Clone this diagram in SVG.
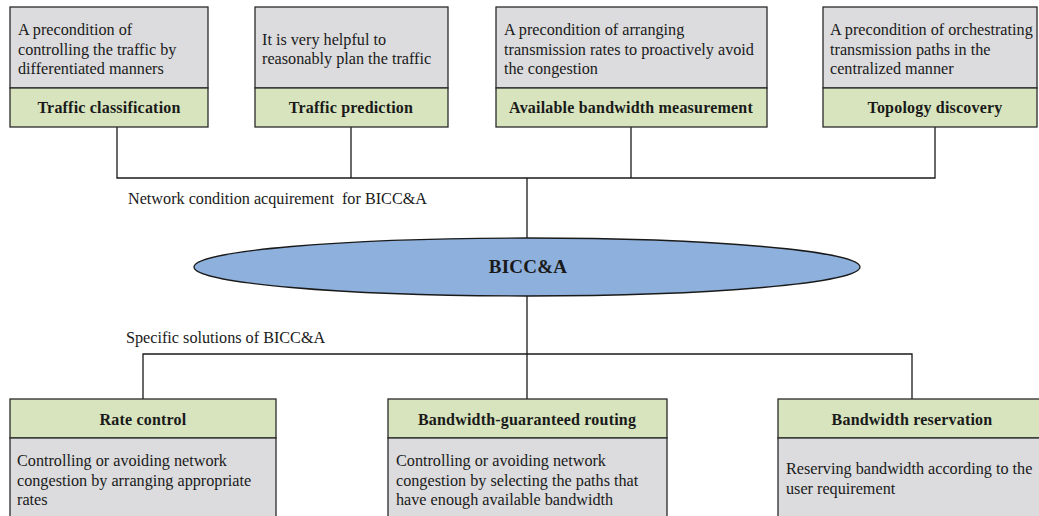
<svg xmlns="http://www.w3.org/2000/svg" width="1039" height="516" viewBox="0 0 1039 516">
  <style>
    .desc { fill: #dcdcde; stroke: #2a2a2a; stroke-width: 1.3; }
    .head { fill: #d7e4bd; stroke: #2a2a2a; stroke-width: 1.3; }
    .t { font-family: "Liberation Serif", "Times New Roman", serif; font-size: 16.2px; fill: #1a1a1a; }
    .h { font-family: "Liberation Serif", "Times New Roman", serif; font-size: 16px; font-weight: bold; fill: #1a1a1a; text-anchor: middle; letter-spacing: 0.2px; }
    .wire { fill: none; stroke: #1a1a1a; stroke-width: 1.3; }
  </style>
  <rect width="1039" height="516" fill="#ffffff"/>

  <g id="connectors">
    <polyline class="wire" points="117,127 117,178 935,178 935,127"/>
    <line class="wire" x1="351" y1="127" x2="351" y2="178"/>
    <line class="wire" x1="631" y1="127" x2="631" y2="178"/>
    <line class="wire" x1="527" y1="178" x2="527" y2="239"/>
    <line class="wire" x1="527" y1="296" x2="527" y2="399"/>
    <polyline class="wire" points="143,399 143,354 912,354 912,399"/>
  </g>

  <g id="traffic-classification">
    <rect class="desc" x="10" y="7" width="198" height="81"/>
    <rect class="head" x="10" y="88" width="198" height="39"/>
    <text class="t" x="18" y="35">A precondition of</text>
    <text class="t" x="18" y="55">controlling the traffic by</text>
    <text class="t" x="18" y="74">differentiated manners</text>
    <text class="h" x="109" y="113">Traffic classification</text>
  </g>

  <g id="traffic-prediction">
    <rect class="desc" x="255" y="7" width="193" height="81"/>
    <rect class="head" x="255" y="88" width="193" height="39"/>
    <text class="t" x="262" y="45">It is very helpful to</text>
    <text class="t" x="262" y="64">reasonably plan the traffic</text>
    <text class="h" x="351" y="113">Traffic prediction</text>
  </g>

  <g id="bandwidth-measurement">
    <rect class="desc" x="496" y="7" width="271" height="81"/>
    <rect class="head" x="496" y="88" width="271" height="39"/>
    <text class="t" x="504" y="35">A precondition of arranging</text>
    <text class="t" x="504" y="55">transmission rates to proactively avoid</text>
    <text class="t" x="504" y="74">the congestion</text>
    <text class="h" x="631" y="113">Available bandwidth measurement</text>
  </g>

  <g id="topology-discovery">
    <rect class="desc" x="823" y="7" width="214" height="81"/>
    <rect class="head" x="823" y="88" width="214" height="39"/>
    <text class="t" x="830" y="35">A precondition of orchestrating</text>
    <text class="t" x="830" y="55">transmission paths in the</text>
    <text class="t" x="830" y="74">centralized manner</text>
    <text class="h" x="935" y="113">Topology discovery</text>
  </g>

  <text class="t" x="128" y="204" xml:space="preserve">Network condition acquirement  for BICC&amp;A</text>
  <text class="t" x="126" y="343">Specific solutions of BICC&amp;A</text>

  <g id="bicca">
    <ellipse cx="527" cy="267" rx="333" ry="29" fill="#8db0dc" stroke="#1a1a1a" stroke-width="1.3"/>
    <text class="h" x="528" y="273" style="font-size:19px">BICC&amp;A</text>
  </g>

  <g id="rate-control">
    <rect class="head" x="10" y="399" width="266" height="39"/>
    <rect class="desc" x="10" y="438" width="266" height="85"/>
    <text class="h" x="143" y="425">Rate control</text>
    <text class="t" x="17" y="466">Controlling or avoiding network</text>
    <text class="t" x="17" y="486">congestion by arranging appropriate</text>
    <text class="t" x="17" y="505">rates</text>
  </g>

  <g id="bandwidth-guaranteed-routing">
    <rect class="head" x="388" y="399" width="279" height="39"/>
    <rect class="desc" x="388" y="438" width="279" height="85"/>
    <text class="h" x="527" y="425">Bandwidth-guaranteed routing</text>
    <text class="t" x="396" y="466">Controlling or avoiding network</text>
    <text class="t" x="396" y="486">congestion by selecting the paths that</text>
    <text class="t" x="396" y="505">have enough available bandwidth</text>
  </g>

  <g id="bandwidth-reservation">
    <rect class="head" x="778" y="399" width="270" height="39"/>
    <rect class="desc" x="778" y="438" width="270" height="85"/>
    <text class="h" x="912" y="425">Bandwidth reservation</text>
    <text class="t" x="786" y="474">Reserving bandwidth according to the</text>
    <text class="t" x="786" y="494">user requirement</text>
  </g>
</svg>
